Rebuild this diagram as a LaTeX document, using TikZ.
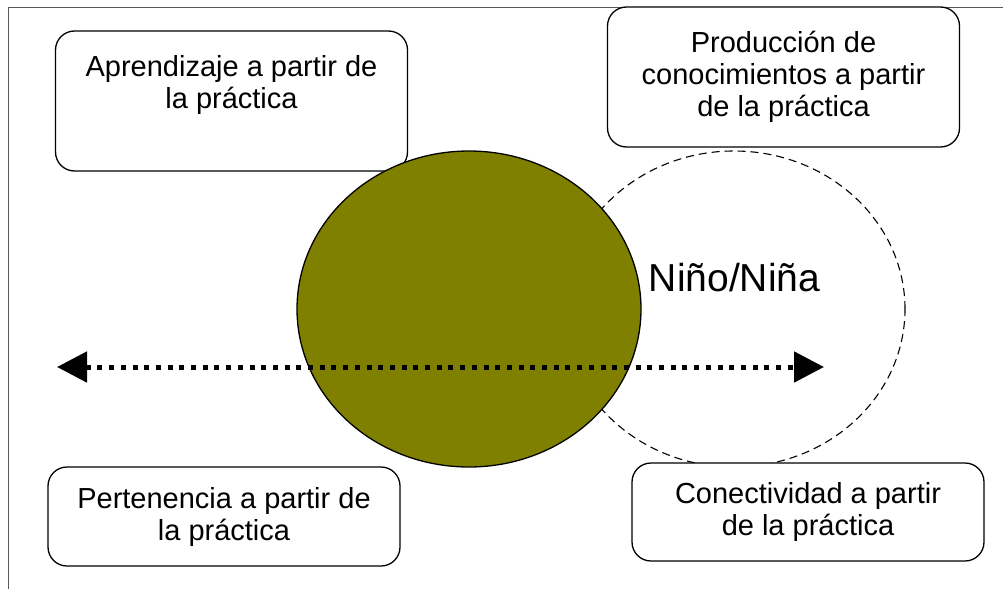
\documentclass[tikz,border=0pt]{standalone}
\usepackage{fontspec}
\setmainfont{Liberation Sans}
\usetikzlibrary{shapes.geometric,arrows.meta}
\definecolor{olivefill}{RGB}{128,128,0}
\tikzset{
  infobox/.style={draw=black, line width=1.3pt, rounded corners=19pt, fill=white,
    minimum width=352pt, inner sep=0pt, align=center,
    font=\fontsize{29}{32}\selectfont},
  boxtext/.style={inner sep=0pt, align=center, font=\fontsize{29}{32}\selectfont},
  frameline/.style={draw=black!65, line width=1pt},
  dotarrow/.style={line width=5pt, dash pattern=on 5pt off 6.7pt,
    {Triangle[length=30pt,width=30pt]}-{Triangle[length=30pt,width=30pt]}},
}
\begin{document}
\begin{tikzpicture}[x=1pt,y=-1pt]
\useasboundingbox (0,0) rectangle (1003,589);
% frame
\coordinate (fa) at (8,589);
\coordinate (fb) at (8,7);
\coordinate (fc) at (1003,7);
\draw[frameline] (fa) -- (fb) -- (fc);
% box 1 (text near top)
\node[infobox, minimum height=140pt] (b1) at (231.5,101) {};
\node[boxtext, anchor=north] (t1) at (231.5,55) {Aprendizaje a partir de\\la práctica};
% dashed circle
\node[draw=black, line width=1.1pt, dash pattern=on 8pt off 5pt, ellipse,
  minimum width=342pt, minimum height=316pt, inner sep=0pt] (dc) at (734,309) {};
% olive circle
\node[draw=black, line width=1.3pt, fill=olivefill, ellipse,
  minimum width=344pt, minimum height=316pt, inner sep=0pt] (oc) at (469,309) {};
% other boxes
\node[infobox, minimum height=140pt] (b2) at (783.5,77) {Producción de\\conocimientos a partir\\de la práctica};
\node[infobox, minimum height=99pt] (b3) at (224,516.5) {Pertenencia a partir de\\la práctica};
\node[infobox, minimum height=98pt] (b4) at (808,512) {Conectividad a partir\\de la práctica};
% arrow
\coordinate (al) at (57,367);
\coordinate (ar) at (824,367);
\draw[dotarrow] (al) -- (ar);
% label
\node[inner sep=0pt, anchor=base, font=\fontsize{39}{44}\selectfont] (nn) at (734.5,291) {Niño/Niña};
\end{tikzpicture}
\end{document}
